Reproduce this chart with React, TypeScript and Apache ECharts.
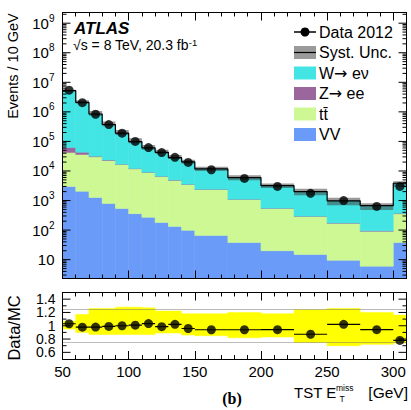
import React, { useEffect, useRef } from "react";
import * as echarts from "echarts";

// Binning of the missing transverse momentum distribution (GeV)
const binEdges = [50, 60, 70, 80, 90, 100, 110, 120, 130, 140, 150, 175, 200, 225, 250, 275, 300, 310];

// Observed events per bin
const dataCounts = [5.4e6, 2.05e6, 8.3e5, 3.7e5, 1.9e5, 1.0e5, 6.2e4, 4.2e4, 2.9e4, 1.95e4, 1.1e4, 5600, 3000, 1750, 1000, 630, 3000];

// Expected contributions per bin
const wenu = [5.18e6, 2.05e6, 8.15e5, 3.5e5, 1.73e5, 8.7e4, 5.1e4, 3.6e4, 2.35e4, 1.68e4, 9300, 4850, 2640, 1710, 806, 576, 3480];
const zee = [2.0e4, 7300, 1500, 800, 400, 250, 150, 100, 70, 50, 40, 20, 10, 6, 4, 3, 10];
const ttbar = [3.9e4, 3.4e4, 2.9e4, 2.2e4, 1.6e4, 1.15e4, 8600, 6300, 4700, 3400, 2300, 1050, 520, 275, 160, 85, 320];
const diboson = [3000, 2050, 1260, 790, 540, 360, 270, 180, 133, 98, 66, 38, 20, 15, 9.5, 6, 38];

// Relative systematic uncertainty on the total expectation (up / down)
const systUp = [0.07, 0.17, 0.26, 0.26, 0.28, 0.28, 0.27, 0.22, 0.22, 0.18, 0.18, 0.2, 0.18, 0.24, 0.26, 0.2, 0.16];
const systDown = [0.05, 0.1, 0.13, 0.13, 0.13, 0.13, 0.13, 0.11, 0.11, 0.14, 0.15, 0.18, 0.17, 0.25, 0.3, 0.28, 0.26];

// Axis tick labels
const xTickLabels = [50, 100, 150, 200, 250, 300];
const ratioTickLabels = [0.6, 0.8, 1, 1.2, 1.4];
const ratioMinorTicks = [0.7, 0.9, 1.1, 1.3];
const ratioGuides = [0.75, 1.25];

const X_MIN = 50;
const X_MAX = 310;
const Y_MIN = 2.3;
const Y_MAX = 2.3e9;
const R_MIN = 0.5;
const R_MAX = 1.5;

const FONT = "'Liberation Sans', Arial, Helvetica, sans-serif";
const SYMBOL_FONT = "'DejaVu Sans', 'Liberation Sans', sans-serif";

const COLORS = {
  wenu: "#43e4e4",
  zee: "#9a669c",
  ttbar: "#cdf894",
  diboson: "#6a9bf8",
  band: "#ffff00",
};

function buildOption() {
  const n = dataCounts.length;
  const lo = binEdges.slice(0, n);
  const hi = binEdges.slice(1, n + 1);
  const centers = lo.map((x, i) => (x + hi[i]) / 2);

  const stack = [
    { key: "diboson", values: diboson, color: COLORS.diboson },
    { key: "ttbar", values: ttbar, color: COLORS.ttbar },
    { key: "zee", values: zee, color: COLORS.zee },
    { key: "wenu", values: wenu, color: COLORS.wenu },
  ];

  const cumulative = new Array(n).fill(0);
  const stackSeries: any[] = stack.map((comp) => {
    const items = comp.values.map((v, i) => {
      const bottom = cumulative[i] === 0 ? Y_MIN : cumulative[i];
      cumulative[i] += v;
      return [lo[i], hi[i], bottom, cumulative[i]];
    });
    return {
      type: "custom",
      name: comp.key,
      xAxisIndex: 0,
      yAxisIndex: 0,
      clip: true,
      z: 2,
      encode: { x: [0, 1], y: [2, 3] },
      data: items,
      renderItem: (_p: any, api: any) => {
        const a = api.coord([api.value(0), api.value(2)]);
        const b = api.coord([api.value(1), api.value(3)]);
        return {
          type: "rect",
          shape: { x: a[0], y: b[1], width: b[0] - a[0], height: a[1] - b[1] },
          style: { fill: comp.color, stroke: comp.color, lineWidth: 0.5 },
        };
      },
    };
  });

  const total = cumulative.slice();
  const ratio = dataCounts.map((d, i) => d / total[i]);

  const bandRender = (_p: any, api: any) => {
    const a = api.coord([api.value(0), api.value(2)]);
    const b = api.coord([api.value(1), api.value(3)]);
    return {
      type: "rect",
      shape: { x: a[0], y: b[1], width: b[0] - a[0], height: a[1] - b[1] },
      style: { fill: "rgba(70,70,70,0.55)" },
    };
  };

  const ratioBandRender = (_p: any, api: any) => {
    const a = api.coord([api.value(0), api.value(2)]);
    const b = api.coord([api.value(1), api.value(3)]);
    return {
      type: "rect",
      shape: { x: a[0], y: b[1], width: b[0] - a[0], height: a[1] - b[1] },
      style: { fill: COLORS.band, stroke: COLORS.band, lineWidth: 0.5 },
    };
  };

  // Step outline of the total expectation
  const stepData = lo.map((x, i) => [x, total[i]]);
  stepData.push([X_MAX, total[n - 1]]);

  // Log-axis ticks in ROOT style: majors at decades, minors at 2..9
  const logTicks: number[][] = [];
  for (let k = 0; k <= 9; k++) {
    for (let m = 1; m <= 9; m++) {
      const v = m * Math.pow(10, k);
      if (v > Y_MIN && v < Y_MAX) logTicks.push([v, m === 1 ? 8 : 4]);
    }
  }

  const baseAxisLine = { show: true, lineStyle: { color: "#000", width: 1 } };

  const xAxisCommon = {
    type: "value",
    min: X_MIN,
    max: X_MAX,
    interval: 50,
    z: 10,
    axisLine: baseAxisLine,
    axisTick: { show: true, inside: true, length: 8, lineStyle: { color: "#000" } },
    minorTick: { show: true, splitNumber: 5, length: 4, lineStyle: { color: "#000" } },
    splitLine: { show: false },
    axisLabel: { show: false },
  };

  const tickPair = (l: number[], r: number[], len: number) => ({
    type: "group",
    children: [
      { type: "line", shape: { x1: l[0], y1: l[1], x2: l[0] + len, y2: l[1] }, style: { stroke: "#000", lineWidth: 1 } },
      { type: "line", shape: { x1: r[0], y1: r[1], x2: r[0] - len, y2: r[1] }, style: { stroke: "#000", lineWidth: 1 } },
    ],
  });

  return {
    animation: false,
    backgroundColor: "#fff",
    grid: [
      { left: 62.5, right: 4.5, top: 12.5, height: 266, outerBoundsMode: "none" },
      { left: 62.5, right: 4.5, top: 292.5, height: 66.5, outerBoundsMode: "none" },
    ],
    xAxis: [
      { ...xAxisCommon, gridIndex: 0, position: "bottom" },
      { ...xAxisCommon, gridIndex: 0, position: "top" },
      {
        ...xAxisCommon,
        gridIndex: 1,
        position: "bottom",
        axisLabel: {
          show: true,
          color: "#000",
          fontFamily: FONT,
          fontSize: 15,
          margin: 5,
          showMaxLabel: false,
          formatter: (v: number) => (xTickLabels.includes(v) ? String(v) : ""),
        },
      },
      { ...xAxisCommon, gridIndex: 1, position: "top" },
    ],
    yAxis: [
      {
        type: "log",
        gridIndex: 0,
        position: "left",
        min: Y_MIN,
        max: Y_MAX,
        logBase: 10,
        splitNumber: 9,
        z: 10,
        axisLine: baseAxisLine,
        axisTick: { show: false },
        splitLine: { show: false },
        axisLabel: {
          show: true,
          margin: 8,
          showMinLabel: false,
          showMaxLabel: false,
          formatter: (v: number) => {
            const k = Math.round(Math.log10(v));
            if (Math.abs(v - Math.pow(10, k)) / v > 1e-6) return "";
            return k === 1 ? "{b|10}" : `{b|10}{s|${k}}`;
          },
          rich: {
            b: { fontSize: 15, fontFamily: FONT, color: "#000", lineHeight: 20 },
            s: { fontSize: 10, fontFamily: FONT, color: "#000", lineHeight: 12, verticalAlign: "top" },
          },
        },
      },
      {
        type: "log",
        gridIndex: 0,
        position: "right",
        min: Y_MIN,
        max: Y_MAX,
        logBase: 10,
        z: 10,
        axisLine: baseAxisLine,
        axisTick: { show: false },
        splitLine: { show: false },
        axisLabel: { show: false },
      },
      {
        type: "value",
        gridIndex: 1,
        position: "left",
        min: R_MIN,
        max: R_MAX,
        interval: 0.1,
        z: 10,
        axisLine: baseAxisLine,
        axisTick: { show: false },
        splitLine: { show: false },
        axisLabel: {
          show: true,
          color: "#000",
          fontFamily: FONT,
          fontSize: 14,
          lineHeight: 12,
          margin: 7,
          hideOverlap: false,
          showMinLabel: false,
          showMaxLabel: false,
          formatter: (v: number) => {
            const hit = ratioTickLabels.find((t) => Math.abs(t - v) < 1e-6);
            return hit === undefined ? "" : String(hit);
          },
        },
      },
      {
        type: "value",
        gridIndex: 1,
        position: "right",
        min: R_MIN,
        max: R_MAX,
        z: 10,
        axisLine: baseAxisLine,
        axisTick: { show: false },
        splitLine: { show: false },
        axisLabel: { show: false },
      },
    ],
    series: [
      ...stackSeries,
      {
        type: "custom",
        name: "syst",
        xAxisIndex: 0,
        yAxisIndex: 0,
        z: 3,
        clip: true,
        encode: { x: [0, 1], y: [2, 3] },
        data: total.map((t, i) => [lo[i], hi[i], t * (1 - systDown[i]), t * (1 + systUp[i])]),
        renderItem: bandRender,
      },
      {
        type: "line",
        name: "total",
        xAxisIndex: 0,
        yAxisIndex: 0,
        z: 4,
        step: "end",
        symbol: "none",
        lineStyle: { color: "#000", width: 1.2 },
        data: stepData,
      },
      {
        type: "scatter",
        name: "Data 2012",
        xAxisIndex: 0,
        yAxisIndex: 0,
        z: 6,
        symbol: "circle",
        symbolSize: 9,
        itemStyle: { color: "#000" },
        data: centers.map((c, i) => [c, dataCounts[i]]),
      },
      {
        type: "custom",
        name: "logTicks",
        xAxisIndex: 0,
        yAxisIndex: 0,
        z: 11,
        silent: true,
        data: logTicks,
        encode: { y: 0 },
        renderItem: (_p: any, api: any) => {
          const v = api.value(0);
          return tickPair(api.coord([X_MIN, v]), api.coord([X_MAX, v]), api.value(1));
        },
      },
      // Ratio panel
      {
        type: "custom",
        name: "ratioBand",
        xAxisIndex: 2,
        yAxisIndex: 2,
        z: 2,
        clip: true,
        encode: { x: [0, 1], y: [2, 3] },
        data: lo.map((x, i) => [x, hi[i], 1 - systDown[i], 1 + systUp[i]]),
        renderItem: ratioBandRender,
      },
      {
        type: "custom",
        name: "ratioErr",
        xAxisIndex: 2,
        yAxisIndex: 2,
        z: 5,
        clip: true,
        encode: { x: [0, 1], y: 2 },
        data: lo.map((x, i) => [x, hi[i], ratio[i]]),
        renderItem: (_p: any, api: any) => {
          const a = api.coord([api.value(0), api.value(2)]);
          const b = api.coord([api.value(1), api.value(2)]);
          return {
            type: "line",
            shape: { x1: a[0], y1: a[1], x2: b[0], y2: b[1] },
            style: { stroke: "#000", lineWidth: 1.2 },
          };
        },
        markLine: {
          silent: true,
          symbol: "none",
          label: { show: false },
          lineStyle: { color: "#777", type: "dotted", width: 1 },
          data: ratioGuides.map((g) => ({ yAxis: g })),
        },
      },
      {
        type: "custom",
        name: "ratioTicks",
        xAxisIndex: 2,
        yAxisIndex: 2,
        z: 11,
        silent: true,
        encode: { y: 0 },
        data: [...ratioTickLabels.map((v) => [v, 8]), ...ratioMinorTicks.map((v) => [v, 4])],
        renderItem: (_p: any, api: any) => {
          const v = api.value(0);
          return tickPair(api.coord([X_MIN, v]), api.coord([X_MAX, v]), api.value(1));
        },
      },
      {
        type: "scatter",
        name: "ratio",
        xAxisIndex: 2,
        yAxisIndex: 2,
        z: 6,
        symbol: "circle",
        symbolSize: 9,
        itemStyle: { color: "#000" },
        data: centers.map((c, i) => [c, ratio[i]]),
      },
    ],
    graphic: [
      {
        type: "text",
        x: 13,
        y: 66,
        rotation: Math.PI / 2,
        style: { text: "Events / 10 GeV", fontFamily: FONT, fontSize: 14.5, fill: "#000", align: "center", verticalAlign: "middle" },
      },
      {
        type: "text",
        x: 13.5,
        y: 328,
        rotation: Math.PI / 2,
        style: { text: "Data/MC", fontFamily: FONT, fontSize: 16.5, fill: "#000", align: "center", verticalAlign: "middle" },
      },
      {
        type: "text",
        x: 74,
        y: 28.5,
        style: { text: "ATLAS", fontFamily: FONT, fontSize: 17, lineHeight: 14, fontWeight: "bold", fontStyle: "italic", fill: "#000", align: "left", verticalAlign: "middle" },
      },
      {
        type: "text",
        x: 73,
        y: 44.5,
        style: {
          text: "{n|√s = 8 TeV, 20.3 fb}{s|-1}",
          align: "left",
          verticalAlign: "middle",
          rich: {
            n: { fontFamily: FONT, fontSize: 14, fill: "#000", lineHeight: 14 },
            s: { fontFamily: FONT, fontSize: 9.5, fill: "#000", lineHeight: 9, verticalAlign: "top" },
          },
        },
      },
      // Legend
      { type: "line", shape: { x1: 294, y1: 32, x2: 316, y2: 32 }, style: { stroke: "#000", lineWidth: 1.5 } },
      { type: "circle", shape: { cx: 305, cy: 32, r: 4.5 }, style: { fill: "#000" } },
      { type: "text", x: 319, y: 32, style: { text: "Data 2012", fontFamily: FONT, fontSize: 16, fill: "#000", verticalAlign: "middle" } },
      { type: "rect", shape: { x: 294, y: 46, width: 22, height: 13 }, style: { fill: "#9a9a9a" } },
      { type: "line", shape: { x1: 294, y1: 52.5, x2: 316, y2: 52.5 }, style: { stroke: "#000", lineWidth: 1.2 } },
      { type: "text", x: 319, y: 52.5, style: { text: "Syst. Unc.", fontFamily: FONT, fontSize: 16, fill: "#000", verticalAlign: "middle" } },
      { type: "rect", shape: { x: 294, y: 66.5, width: 22, height: 13 }, style: { fill: COLORS.wenu } },
      {
        type: "text",
        x: 319,
        y: 73,
        style: {
          text: "{t|W}{a|→}{t| eν}",
          verticalAlign: "middle",
          rich: {
            t: { fontFamily: FONT, fontSize: 16, fill: "#000" },
            a: { fontFamily: SYMBOL_FONT, fontSize: 16, fill: "#000" },
          },
        },
      },
      { type: "rect", shape: { x: 294, y: 87, width: 22, height: 13 }, style: { fill: COLORS.zee } },
      {
        type: "text",
        x: 319,
        y: 93.5,
        style: {
          text: "{t|Z}{a|→}{t| ee}",
          verticalAlign: "middle",
          rich: {
            t: { fontFamily: FONT, fontSize: 16, fill: "#000" },
            a: { fontFamily: SYMBOL_FONT, fontSize: 16, fill: "#000" },
          },
        },
      },
      { type: "rect", shape: { x: 294, y: 107.5, width: 22, height: 13 }, style: { fill: COLORS.ttbar } },
      { type: "text", x: 319, y: 114, style: { text: "tt\u0304", fontFamily: FONT, fontSize: 16, fill: "#000", verticalAlign: "middle" } },
      { type: "rect", shape: { x: 294, y: 128, width: 22, height: 13 }, style: { fill: COLORS.diboson } },
      { type: "text", x: 319, y: 134.5, style: { text: "VV", fontFamily: FONT, fontSize: 16, fill: "#000", verticalAlign: "middle" } },
      // x-axis title
      { type: "text", x: 294, y: 392, style: { text: "TST E", fontFamily: FONT, fontSize: 15, fill: "#000", verticalAlign: "middle" } },
      { type: "text", x: 336, y: 387.5, style: { text: "miss", fontFamily: FONT, fontSize: 8.5, lineHeight: 8, fill: "#000", verticalAlign: "middle" } },
      { type: "text", x: 339.5, y: 399, style: { text: "T", fontFamily: FONT, fontSize: 8.5, lineHeight: 8, fill: "#000", verticalAlign: "middle" } },
      { type: "text", x: 408, y: 392, style: { text: "[GeV]", fontFamily: FONT, fontSize: 15.5, fill: "#000", align: "right", verticalAlign: "middle" } },
      {
        type: "text",
        x: 232,
        y: 398,
        style: { text: "(b)", fontFamily: "'Liberation Serif', 'DejaVu Serif', serif", fontSize: 16, fontWeight: "bold", fill: "#000", align: "center", verticalAlign: "middle" },
      },
    ],
  };
}

export default function App() {
  const ref = useRef<HTMLDivElement>(null);
  useEffect(() => {
    document.body.style.margin = "0";
    const chart = echarts.init(ref.current!, undefined, { renderer: "svg" });
    chart.setOption(buildOption() as any);
    return () => chart.dispose();
  }, []);
  return <div ref={ref} style={{ width: 411, height: 410 }} />;
}
